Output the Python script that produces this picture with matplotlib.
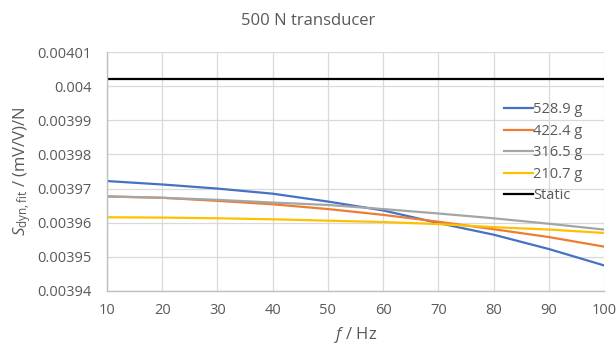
import numpy as np
import matplotlib.pyplot as plt

plt.rcParams['font.family'] = ['Open Sans', 'DejaVu Sans']
plt.rcParams['mathtext.fontset'] = 'custom'
plt.rcParams['mathtext.rm'] = 'Open Sans'
plt.rcParams['mathtext.it'] = 'Open Sans:italic'

# sensitivity vs. frequency for each test mass
freq = [10, 20, 30, 40, 50, 60, 70, 80, 90, 100]
s_528 = [0.0039722, 0.0039712, 0.0039700, 0.0039685, 0.0039662,
         0.0039636, 0.0039599, 0.0039565, 0.0039523, 0.0039475]
s_422 = [0.0039677, 0.0039673, 0.0039664, 0.0039654, 0.0039640,
         0.0039623, 0.0039603, 0.0039581, 0.0039558, 0.0039530]
s_316 = [0.0039677, 0.0039673, 0.0039667, 0.0039659, 0.0039652,
         0.0039640, 0.0039627, 0.0039613, 0.0039597, 0.0039580]
s_210 = [0.0039616, 0.0039615, 0.0039613, 0.0039610, 0.0039606,
         0.0039602, 0.0039596, 0.0039587, 0.0039580, 0.0039570]
s_static = 0.0040020

y_ticks = [0.00394, 0.00395, 0.00396, 0.00397, 0.00398, 0.00399, 0.004, 0.00401]
y_labels = ['0.00394', '0.00395', '0.00396', '0.00397',
            '0.00398', '0.00399', '0.004', '0.00401']

series = [
    ('528.9 g', s_528, '#4472C4'),
    ('422.4 g', s_422, '#ED7D31'),
    ('316.5 g', s_316, '#A5A5A5'),
    ('210.7 g', s_210, '#FFC000'),
]

text_col = '#595959'

fig = plt.figure(figsize=(6.16, 3.45), dpi=100)
ax = fig.add_axes([107 / 616, 1 - 291 / 345, (604 - 107) / 616, (291 - 52) / 345])

for label, vals, col in series:
    ax.plot(freq, vals, color=col, lw=1.6, label=label)
ax.plot([freq[0], freq[-1]], [s_static, s_static], color='black', lw=1.6, label='Static')

ax.set_xlim(10, 100)
ax.set_ylim(y_ticks[0], y_ticks[-1])
ax.set_xticks(np.arange(10, 101, 10))
ax.set_yticks(y_ticks)
ax.set_yticklabels(y_labels)

ax.grid(True, color='#d9d9d9', lw=0.9)
ax.set_axisbelow(True)
for side in ['top', 'right']:
    ax.spines[side].set_visible(False)
for side in ['left', 'bottom']:
    ax.spines[side].set_color('#bfbfbf')
    ax.spines[side].set_linewidth(1.0)
ax.tick_params(length=0, labelsize=10.5, labelcolor=text_col)
ax.tick_params(axis='x', pad=9)
ax.tick_params(axis='y', pad=11)

ax.set_xlabel('$f$ / Hz', fontsize=12, color=text_col, labelpad=4.5)
ax.set_ylabel(r'$S_{\mathrm{dyn,fit}}$ / (mV/V)/N', fontsize=12, color=text_col, labelpad=3)
fig.text(0.50, 1 - 21 / 345, '500 N transducer', ha='center', va='center',
         fontsize=12, color=text_col)

leg = ax.legend(loc='upper left', bbox_to_anchor=(0.787, 0.815), frameon=False,
                fontsize=10.5, handlelength=2.0, handletextpad=0.0,
                labelspacing=0.45, borderaxespad=0)
for t in leg.get_texts():
    t.set_color(text_col)

fig.savefig('out.png', dpi=100)
